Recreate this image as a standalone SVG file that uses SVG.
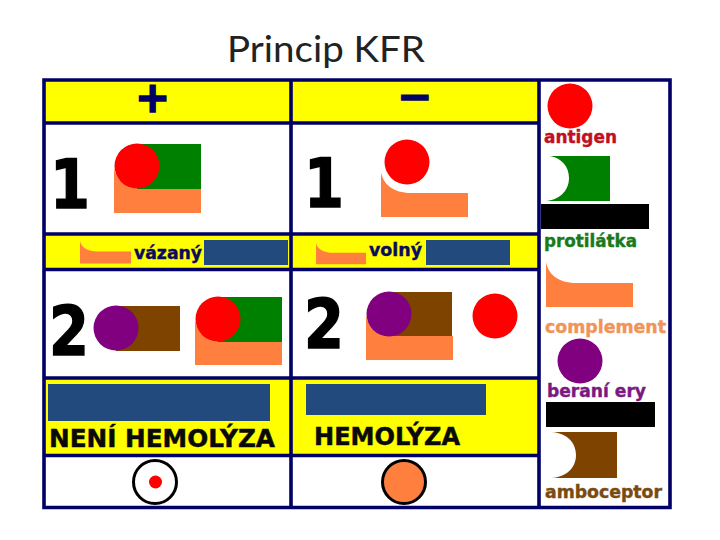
<svg xmlns="http://www.w3.org/2000/svg" width="720" height="540" viewBox="0 0 720 540">
<style>
.y{fill:#ffff00}
.b{fill:#234a7c}
.k{fill:#000}
.o{fill:#ff7f3f}
.g{fill:#008000}
.br{fill:#7f4300}
.r{fill:#ff0000}
.p{fill:#800080}
.grid{stroke:#000066;stroke-width:3.6;fill:none}
text{font-family:"DejaVu Sans",sans-serif;font-weight:700}
.num{font-size:68px;fill:#000;stroke:#000;stroke-width:1.500}
.big{font-size:25px;fill:#0a0a0a;stroke:#0a0a0a;stroke-width:.5}
.lab{font-size:17px;stroke-width:.4;paint-order:stroke}
.sign{font-size:42px;fill:#000066;stroke:#000066;stroke-width:1.500;text-anchor:middle}
</style>
<defs>
<path id="comp" d="M0 0C2 12 12 21 30 21L87 21L87 45L0 45Z"/>
<circle id="ball" r="22.500"/>
</defs>
<rect width="720" height="540" fill="#fff"/>
<text x="227" y="62" style="font-family:Lato,sans-serif;font-weight:400;font-size:36px;fill:#222" textLength="198" lengthAdjust="spacingAndGlyphs">Princip KFR</text>
<g id="backgrounds">
<rect class="y" x="44" y="80" width="495" height="43"/>
<rect class="y" x="44" y="234" width="495" height="36"/>
<rect class="y" x="44" y="378" width="495" height="78"/>
</g>
<g id="connectors">
<path class="grid" d="M44 80H670V507.500H44ZM44 123H539M44 234H539M44 269.500H539M44 378H539M44 455.500H539M291 80V507.500M539 80V507.500"/>
</g>
<g id="header-plus"><text class="sign" x="152.500" y="112">+</text></g>
<g id="header-minus"><text class="sign" x="414.500" y="111">−</text></g>
<g id="step1-plus">
<text class="num" x="50" y="207.500" textLength="40" lengthAdjust="spacingAndGlyphs">1</text>
<use href="#comp" class="o" x="114" y="168"/>
<rect class="g" x="137" y="144" width="64" height="45"/>
<use href="#ball" class="r" x="137" y="166"/>
</g>
<g id="step1-minus">
<text class="num" x="304" y="206.500" textLength="40" lengthAdjust="spacingAndGlyphs">1</text>
<use href="#comp" class="o" x="381" y="172"/>
<use href="#ball" class="r" x="407" y="162"/>
</g>
<g id="bound">
<use href="#comp" class="o" transform="translate(80 241) scale(.586 .5)"/>
<text class="lab" x="134" y="259" fill="#0a0a60" stroke="#0a0a60" textLength="68" lengthAdjust="spacingAndGlyphs">vázaný</text>
<rect class="b" x="204" y="240" width="84" height="25"/>
</g>
<g id="free">
<use href="#comp" class="o" transform="translate(316 243) scale(.575 .47)"/>
<text class="lab" x="369" y="256" fill="#0a0a60" stroke="#0a0a60" textLength="53" lengthAdjust="spacingAndGlyphs">volný</text>
<rect class="b" x="426" y="240" width="84" height="25"/>
</g>
<g id="step2-plus">
<text class="num" x="49" y="354.500" textLength="40" lengthAdjust="spacingAndGlyphs">2</text>
<rect class="br" x="116" y="306" width="64" height="45"/>
<use href="#ball" class="p" x="116" y="328"/>
<use href="#comp" class="o" x="195" y="320"/>
<rect class="g" x="218" y="297" width="64" height="45"/>
<use href="#ball" class="r" x="218" y="319"/>
</g>
<g id="step2-minus">
<text class="num" x="304" y="347.500" textLength="40" lengthAdjust="spacingAndGlyphs">2</text>
<use href="#comp" class="o" x="366" y="315"/>
<rect class="br" x="389" y="292" width="63" height="44"/>
<use href="#ball" class="p" x="389" y="314"/>
<use href="#ball" class="r" x="495" y="316"/>
</g>
<g id="result-plus">
<rect class="b" x="48" y="384" width="222" height="37"/>
<text class="big" x="49" y="447" textLength="226" lengthAdjust="spacingAndGlyphs">NENÍ HEMOLÝZA</text>
</g>
<g id="result-minus">
<rect class="b" x="306" y="384" width="180" height="31"/>
<text class="big" x="314" y="445" textLength="146" lengthAdjust="spacingAndGlyphs">HEMOLÝZA</text>
</g>
<g id="cell-plus">
<circle cx="155" cy="482" r="21.500" fill="#fff" stroke="#000" stroke-width="3"/>
<circle class="r" cx="155.500" cy="482" r="6.500"/>
</g>
<g id="cell-minus">
<circle cx="404" cy="482" r="21.500" fill="#ff7f3f" stroke="#000" stroke-width="3"/>
</g>
<g id="legend-antigen">
<use href="#ball" class="r" x="570" y="106"/>
<text class="lab" x="544" y="143" fill="#c0101f" stroke="#c0101f" textLength="73" lengthAdjust="spacingAndGlyphs">antigen</text>
</g>
<g id="legend-protilatka">
<path class="g" d="M550 156H610V201H546C558 200 569 192 569 178C569 166 561 158 550 156Z"/>
<rect class="k" x="541" y="204" width="108" height="25"/>
<text class="lab" x="544" y="247" fill="#1a7a1a" stroke="#1a7a1a" textLength="93" lengthAdjust="spacingAndGlyphs">protilátka</text>
</g>
<g id="legend-complement">
<use href="#comp" class="o" x="546" y="262"/>
<text class="lab" x="545" y="333" fill="#f0945a" stroke="#f0945a" textLength="121" lengthAdjust="spacingAndGlyphs">complement</text>
</g>
<g id="legend-ery">
<use href="#ball" class="p" x="580" y="361"/>
<text class="lab" x="547" y="397" fill="#7a1a80" stroke="#7a1a80" textLength="99" lengthAdjust="spacingAndGlyphs">beraní ery</text>
<rect class="k" x="546" y="402" width="109" height="25"/>
</g>
<g id="legend-amboceptor">
<path class="br" d="M552 432H617V478H552C566 477 576 468 576 455C576 442 566 433 552 432Z"/>
<text class="lab" x="545" y="498" fill="#7a4a10" stroke="#7a4a10" textLength="117" lengthAdjust="spacingAndGlyphs">amboceptor</text>
</g>
</svg>
